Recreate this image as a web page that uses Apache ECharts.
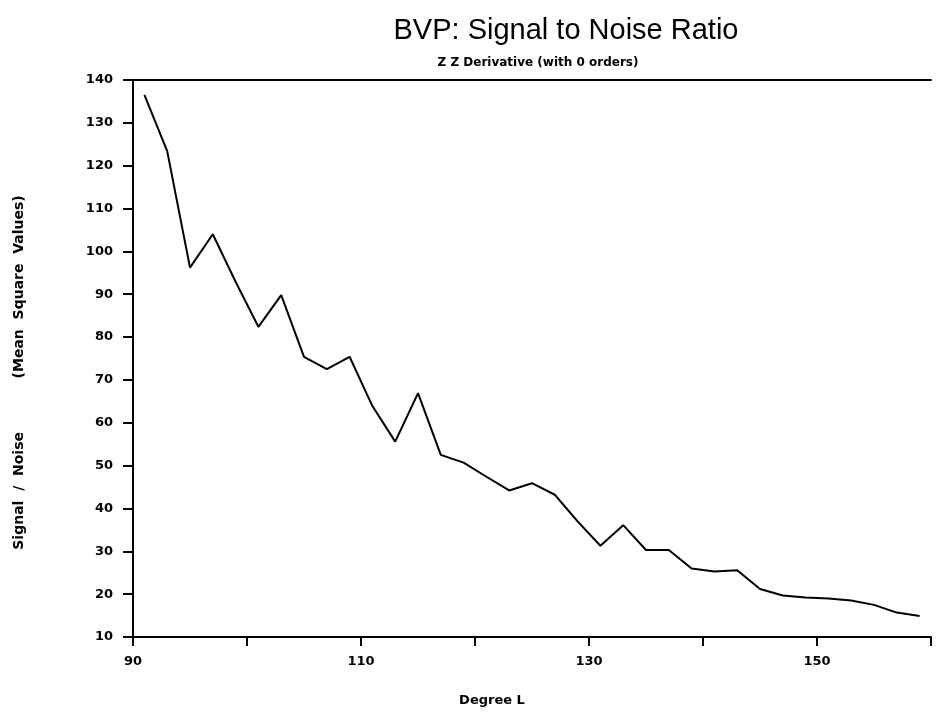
<!DOCTYPE html>
<html>
<head>
<meta charset="utf-8">
<title>BVP: Signal to Noise Ratio</title>
<script src="https://cdn.jsdelivr.net/npm/echarts@6/dist/echarts.min.js"></script>
<style>
  html, body { margin: 0; padding: 0; background: #ffffff; }
  #chart { width: 937px; height: 715px; }
</style>
</head>
<body>
<div id="chart"></div>
<script>
// Degree L (odd degrees 91..159)
const degrees = [91, 93, 95, 97, 99, 101, 103, 105, 107, 109,
                 111, 113, 115, 117, 119, 121, 123, 125, 127, 129,
                 131, 133, 135, 137, 139, 141, 143, 145, 147, 149,
                 151, 153, 155, 157, 159];
// Signal / Noise (mean square values)
const snr = [136.5, 123.4, 96.2, 104.0, 92.9, 82.4, 89.8, 75.4, 72.5, 75.4,
             63.9, 55.6, 66.9, 52.5, 50.7, 47.4, 44.2, 45.9, 43.2, 37.0,
             31.3, 36.1, 30.3, 30.3, 26.0, 25.3, 25.6, 21.2, 19.7, 19.2,
             19.0, 18.5, 17.5, 15.7, 14.9];
// Labelled ticks on the degree axis
const xTickLabels = ['90', '110', '130', '150'];

const boldFont = 'DejaVu Sans';
const chart = echarts.init(document.getElementById('chart'), null, { renderer: 'canvas' });

chart.setOption({
  backgroundColor: '#ffffff',
  animation: false,
  title: [
    {
      text: 'BVP: Signal to Noise Ratio',
      left: 561, top: 11, textAlign: 'center',
      textStyle: { fontFamily: 'Liberation Sans', fontWeight: 'normal', fontSize: 29, color: '#000' }
    },
    {
      text: 'Z Z Derivative (with 0 orders)',
      left: 533, top: 52, textAlign: 'center',
      textStyle: { fontFamily: boldFont, fontWeight: 'bold', fontSize: 12, color: '#000' }
    }
  ],
  grid: { left: 133, right: 6, top: 80, bottom: 78, containLabel: false },
  xAxis: [
    {
      type: 'value', min: 90, max: 160, interval: 10,
      name: 'Degree L', nameLocation: 'middle', nameGap: 57,
      nameTextStyle: { fontFamily: boldFont, fontWeight: 'bold', fontSize: 13, color: '#000', padding: [0, 80, 0, 0] },
      axisLine: { onZero: false, lineStyle: { color: '#000', width: 2 } },
      axisTick: { inside: false, length: 9, lineStyle: { color: '#000', width: 2 } },
      axisLabel: {
        margin: 18, fontFamily: boldFont, fontWeight: 'bold', fontSize: 13, color: '#000',
        formatter: v => (xTickLabels.indexOf(String(v)) >= 0 ? String(v) : '')
      },
      splitLine: { show: false }
    },
    {
      type: 'value', position: 'top', min: 90, max: 160,
      axisLine: { onZero: false, lineStyle: { color: '#000', width: 2 } },
      axisTick: { show: false }, axisLabel: { show: false }, splitLine: { show: false }
    }
  ],
  yAxis: {
    type: 'value', min: 10, max: 140, interval: 10,
    name: 'Signal  /  Noise           (Mean  Square  Values)', nameLocation: 'middle', nameGap: 107,
    nameTextStyle: { fontFamily: boldFont, fontWeight: 'bold', fontSize: 14, color: '#000', padding: [0, 28, 0, 0] },
    axisLine: { show: true, lineStyle: { color: '#000', width: 2 } },
    axisTick: { show: true, inside: false, length: 10, lineStyle: { color: '#000', width: 2 } },
    axisLabel: { margin: 20, fontFamily: boldFont, fontWeight: 'bold', fontSize: 13, color: '#000' },
    splitLine: { show: false }
  },
  series: [{
    type: 'line',
    data: degrees.map((d, i) => [d, snr[i]]),
    showSymbol: false,
    lineStyle: { color: '#000', width: 2 },
    clip: false
  }]
});
</script>
</body>
</html>
